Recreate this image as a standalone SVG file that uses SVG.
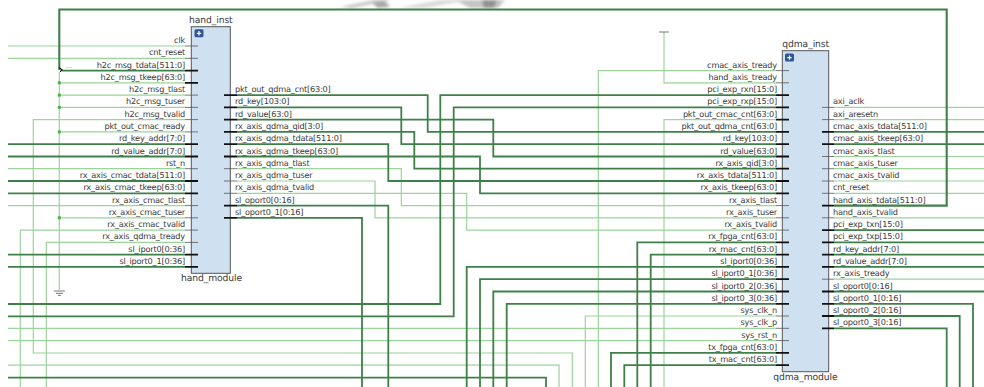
<svg xmlns="http://www.w3.org/2000/svg" width="984" height="387" viewBox="0 0 984 387">
<style>
text{font-family:"DejaVu Sans",sans-serif;font-size:8.2px;letter-spacing:-.2px;fill:#3a3a3a;text-rendering:geometricPrecision}
.e{text-anchor:end}
.t{font-size:9.2px;letter-spacing:-.1px}
.net{fill:none;stroke:#9cd49c;stroke-width:1.2}
.bus{fill:none;stroke:#3f8048;stroke-width:1.8}
.top{stroke-width:2.1}
.pin{stroke:#555;stroke-width:.8;fill:none}
.pb{stroke:#111;stroke-width:1.8;fill:none}
.box{fill:#cfe0f0;stroke:#555;stroke-width:1}
.btn{fill:#2f5596}
.plus{stroke:#fff;stroke-width:1.2}
.dot{fill:#4cb04c}
.sym{stroke:#666;stroke-width:.9;fill:none}
</style>
<defs><filter id="s" x="-20%" y="-50%" width="140%" height="200%"><feGaussianBlur stdDeviation="1.5"/></filter></defs>
<g fill="#c4c4c4" filter="url(#s)">
<path d="M340 7L375 0H392L352 8z"/>
<path d="M372 3L385 1L390 7L378 8z" fill="#a8a8a8"/>
<path d="M398 8L440 0H470L425 8z" fill="#dadada"/>
<path d="M455 0H505L498 8H470z"/>
<path d="M482 0H497L494 8H484z" fill="#929292"/>
</g>
<g id="connectors">
<path class="net" d="M8 46H185M8 58.3H185M8 168.7H185M8 205.6H185"/>
<path class="net" d="M59.3 72V290M59.3 82.8H185M59.3 95.1H185M59.3 107.4H185M59.3 131.9H185M59.3 217.8H185"/>
<path class="net" d="M185 119.6H33.3V353H572.3V387"/>
<path class="net" d="M20.3 387V230.1H185M46.3 387V242.4H185"/>
<path class="net" d="M8 328.3H776M8 340.6H776M8 365.1H559V387"/>
<path class="net" d="M237 168.7H401.3V205.6H776M237 181H375V217.8H776M237 193.3H466.7V230.1H776"/>
<path class="net" d="M598.3 387V70.6H776M664 32V82.8H776M664 387V119.6H776M585.3 387V316H776"/>
<path class="net" d="M834 107.4H984M834 119.6H984M834 156.5H984M834 168.7H984M834 181H984M834 193.3H984M834 217.8H984M834 279.2H984"/>
<path class="bus top" d="M59.3 70V9.5H946.7V205.6H834"/>
<path class="bus" d="M62 70.6H185M8 144.2H185M8 156.5H185M8 181H185M8 193.3H185M8 254.7H185M8 266.9H185"/>
<path class="bus" d="M8 304H440.3V95.1H776M8 316.3H453.7V107.4H776M8 377.7H546V387"/>
<path class="bus" d="M237 95.1H427.7V131.9H776M237 107.4H401.3V144.2H776M237 119.6H493.3V156.5H776M237 131.9H414.3V168.7H776M237 144.2H388.3V181H776M237 156.5H480V193.3H776"/>
<path class="bus" d="M237 205.6H388.3V387M237 217.8H362V387"/>
<path class="bus" d="M637.3 387V242.4H776M650.7 387V254.7H776M466.7 387V266.9H776M480 387V279.2H776M493.3 387V291.5H776M506.7 387V303.8H776M611 387V352.8H776M624.3 387V365.1H776"/>
<path class="bus" d="M834 131.9H984M834 144.2H984M834 230.1H984M834 242.4H984M834 254.7H984M834 266.9H984M834 291.5H984M834 303.8H973V387M834 316H959.7V387M834 328.3H946.7V387"/>
<path d="M59 67.5L62 69.8L60 71.8" fill="none" stroke="#111" stroke-width="1.2"/>
<text x="66" y="68" style="font-size:7px;fill:#999">...</text>
<g class="dot"><rect x="57.8" y="81.3" width="3" height="3"/><rect x="57.8" y="93.6" width="3" height="3"/><rect x="57.8" y="105.9" width="3" height="3"/><rect x="57.8" y="130.4" width="3" height="3"/><rect x="57.8" y="216.3" width="3" height="3"/></g>
</g>
<g id="gnd"><path class="sym" d="M54 291H65M56 293.3H63M58 295.4H61"/></g>
<g id="vcc"><path class="sym" d="M659 32H669"/></g>
<g id="hand_inst">
<rect class="box" x="191.3" y="26.7" width="39" height="246.6"/>
<rect class="btn" x="194.5" y="29.3" width="9" height="8" rx="1.5"/>
<path class="plus" d="M196.8 33.3H201.2M199 31.1V35.5"/>
<text class="t" x="189" y="23">hand_inst</text>
<text class="t" x="181" y="281">hand_module</text>
<path class="pin" d="M185 46H198M185 58.3H198M185 95.1H198M185 107.4H198M185 119.6H198M185 131.9H198M185 168.7H198M185 205.6H198M185 217.8H198M185 230.1H198M185 242.4H198"/>
<path class="pb" d="M185 70.6H198M185 82.8H198M185 144.2H198M185 156.5H198M185 181H198M185 193.3H198M185 254.7H198M185 266.9H198"/>
<path class="pin" d="M224 168.7H237M224 181H237M224 193.3H237"/>
<path class="pb" d="M224 95.1H237M224 107.4H237M224 119.6H237M224 131.9H237M224 144.2H237M224 156.5H237M224 205.6H237M224 217.8H237"/>
<text class="e" x="185" y="43">clk</text>
<text class="e" x="185" y="55.3">cnt_reset</text>
<text class="e" x="185" y="67.6">h2c_msg_tdata[511:0]</text>
<text class="e" x="185" y="79.8">h2c_msg_tkeep[63:0]</text>
<text class="e" x="185" y="92.1">h2c_msg_tlast</text>
<text class="e" x="185" y="104.4">h2c_msg_tuser</text>
<text class="e" x="185" y="116.6">h2c_msg_tvalid</text>
<text class="e" x="185" y="128.9">pkt_out_cmac_ready</text>
<text class="e" x="185" y="141.2">rd_key_addr[7:0]</text>
<text class="e" x="185" y="153.5">rd_value_addr[7:0]</text>
<text class="e" x="185" y="165.7">rst_n</text>
<text class="e" x="185" y="178">rx_axis_cmac_tdata[511:0]</text>
<text class="e" x="185" y="190.3">rx_axis_cmac_tkeep[63:0]</text>
<text class="e" x="185" y="202.6">rx_axis_cmac_tlast</text>
<text class="e" x="185" y="214.8">rx_axis_cmac_tuser</text>
<text class="e" x="185" y="227.1">rx_axis_cmac_tvalid</text>
<text class="e" x="185" y="239.4">rx_axis_qdma_tready</text>
<text class="e" x="185" y="251.7">sl_iport0[0:36]</text>
<text class="e" x="185" y="263.9">sl_iport0_1[0:36]</text>
<text x="235" y="92.1">pkt_out_qdma_cnt[63:0]</text>
<text x="235" y="104.4">rd_key[103:0]</text>
<text x="235" y="116.6">rd_value[63:0]</text>
<text x="235" y="128.9">rx_axis_qdma_qid[3:0]</text>
<text x="235" y="141.2">rx_axis_qdma_tdata[511:0]</text>
<text x="235" y="153.5">rx_axis_qdma_tkeep[63:0]</text>
<text x="235" y="165.7">rx_axis_qdma_tlast</text>
<text x="235" y="178">rx_axis_qdma_tuser</text>
<text x="235" y="190.3">rx_axis_qdma_tvalid</text>
<text x="235" y="202.6">sl_oport0[0:16]</text>
<text x="235" y="214.8">sl_oport0_1[0:16]</text>
</g>
<g id="qdma_inst">
<rect class="box" x="782.3" y="50.7" width="46.4" height="321"/>
<rect class="btn" x="785" y="53.6" width="9" height="8" rx="1.5"/>
<path class="plus" d="M787.3 57.6H791.7M789.5 55.4V59.8"/>
<text class="t" x="782.3" y="47.3">qdma_inst</text>
<text class="t" x="773.3" y="380">qdma_module</text>
<path class="pin" d="M776 70.6H789M776 82.8H789M776 205.6H789M776 217.8H789M776 230.1H789M776 316H789M776 328.3H789M776 340.6H789"/>
<path class="pb" d="M776 95.1H789M776 107.4H789M776 119.6H789M776 131.9H789M776 144.2H789M776 156.5H789M776 168.7H789M776 181H789M776 193.3H789M776 242.4H789M776 254.7H789M776 266.9H789M776 279.2H789M776 291.5H789M776 303.8H789M776 352.8H789M776 365.1H789"/>
<path class="pin" d="M822 107.4H834M822 119.6H834M822 156.5H834M822 168.7H834M822 181H834M822 193.3H834M822 217.8H834M822 279.2H834"/>
<path class="pb" d="M822 131.9H834M822 144.2H834M822 205.6H834M822 230.1H834M822 242.4H834M822 254.7H834M822 266.9H834M822 291.5H834M822 303.8H834M822 316H834M822 328.3H834"/>
<text class="e" x="777" y="67.6">cmac_axis_tready</text>
<text class="e" x="777" y="79.8">hand_axis_tready</text>
<text class="e" x="777" y="92.1">pci_exp_rxn[15:0]</text>
<text class="e" x="777" y="104.4">pci_exp_rxp[15:0]</text>
<text class="e" x="777" y="116.6">pkt_out_cmac_cnt[63:0]</text>
<text class="e" x="777" y="128.9">pkt_out_qdma_cnt[63:0]</text>
<text class="e" x="777" y="141.2">rd_key[103:0]</text>
<text class="e" x="777" y="153.5">rd_value[63:0]</text>
<text class="e" x="777" y="165.7">rx_axis_qid[3:0]</text>
<text class="e" x="777" y="178">rx_axis_tdata[511:0]</text>
<text class="e" x="777" y="190.3">rx_axis_tkeep[63:0]</text>
<text class="e" x="777" y="202.6">rx_axis_tlast</text>
<text class="e" x="777" y="214.8">rx_axis_tuser</text>
<text class="e" x="777" y="227.1">rx_axis_tvalid</text>
<text class="e" x="777" y="239.4">rx_fpga_cnt[63:0]</text>
<text class="e" x="777" y="251.7">rx_mac_cnt[63:0]</text>
<text class="e" x="777" y="263.9">sl_iport0[0:36]</text>
<text class="e" x="777" y="276.2">sl_iport0_1[0:36]</text>
<text class="e" x="777" y="288.5">sl_iport0_2[0:36]</text>
<text class="e" x="777" y="300.8">sl_iport0_3[0:36]</text>
<text class="e" x="777" y="313">sys_clk_n</text>
<text class="e" x="777" y="325.3">sys_clk_p</text>
<text class="e" x="777" y="337.6">sys_rst_n</text>
<text class="e" x="777" y="349.8">tx_fpga_cnt[63:0]</text>
<text class="e" x="777" y="362.1">tx_mac_cnt[63:0]</text>
<text x="833" y="104.4">axi_aclk</text>
<text x="833" y="116.6">axi_aresetn</text>
<text x="833" y="128.9">cmac_axis_tdata[511:0]</text>
<text x="833" y="141.2">cmac_axis_tkeep[63:0]</text>
<text x="833" y="153.5">cmac_axis_tlast</text>
<text x="833" y="165.7">cmac_axis_tuser</text>
<text x="833" y="178">cmac_axis_tvalid</text>
<text x="833" y="190.3">cnt_reset</text>
<text x="833" y="202.6">hand_axis_tdata[511:0]</text>
<text x="833" y="214.8">hand_axis_tvalid</text>
<text x="833" y="227.1">pci_exp_txn[15:0]</text>
<text x="833" y="239.4">pci_exp_txp[15:0]</text>
<text x="833" y="251.7">rd_key_addr[7:0]</text>
<text x="833" y="263.9">rd_value_addr[7:0]</text>
<text x="833" y="276.2">rx_axis_tready</text>
<text x="833" y="288.5">sl_oport0[0:16]</text>
<text x="833" y="300.8">sl_oport0_1[0:16]</text>
<text x="833" y="313">sl_oport0_2[0:16]</text>
<text x="833" y="325.3">sl_oport0_3[0:16]</text>
</g>
</svg>
